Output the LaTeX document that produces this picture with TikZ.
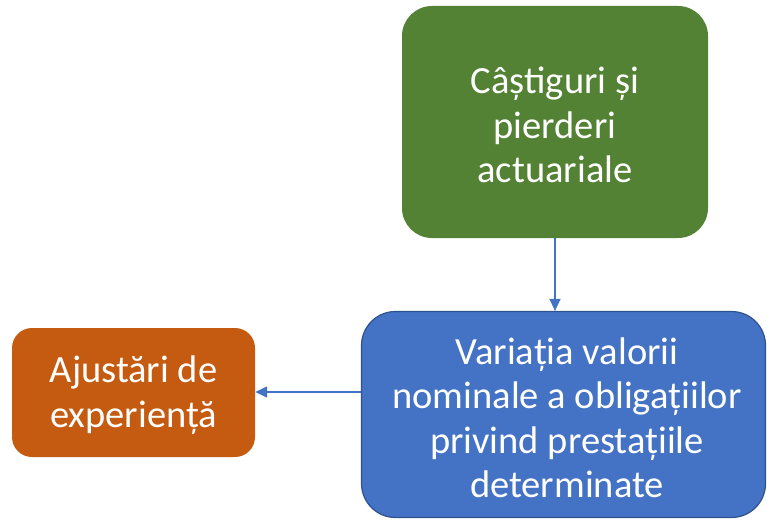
\documentclass[tikz,border=0pt]{standalone}
\usepackage{fontspec}
\setmainfont{Carlito}
\usetikzlibrary{arrows.meta}
\definecolor{cgreen}{HTML}{548235}
\definecolor{cblue}{HTML}{4472C4}
\definecolor{cblueline}{HTML}{2F528F}
\definecolor{corange}{HTML}{C55A11}
\tikzset{
  box/.style={rectangle, align=center, text=white, inner sep=0pt,
    font=\fontsize{38.5}{44.5}\selectfont},
  conn/.style={draw=cblue, line width=1.3pt, -{Triangle[length=12pt,width=11pt]}}
}
\begin{document}
\begin{tikzpicture}[x=1pt,y=1pt]
\useasboundingbox (0,0) rectangle (767,-519);
\node[box, fill=cgreen, rounded corners=30pt, minimum width=306pt, minimum height=232pt]
  (g) at (555,-122) {};
\node[box] (gt) at (555,-125) {Câștiguri și\\pierderi\\actuariale};
\node[box, fill=cblue, draw=cblueline, line width=1.2pt, rounded corners=34pt, minimum width=404pt, minimum height=206pt]
  (b) at (563.5,-414.5) {};
\node[box] (bt) at (567,-418) {Variația valorii\\nominale a obligațiilor\\privind prestațiile\\determinate};
\node[box, fill=corange, rounded corners=20pt, minimum width=243pt, minimum height=129pt]
  (o) at (133.5,-392.5) {};
\node[box] (ot) at (133.5,-395) {Ajustări de\\experiență};
\draw[conn] (g.south) -- (g.south |- b.north);
\draw[conn] (b.west |- 0,-392) -- (o.east |- 0,-392);
\end{tikzpicture}
\end{document}
